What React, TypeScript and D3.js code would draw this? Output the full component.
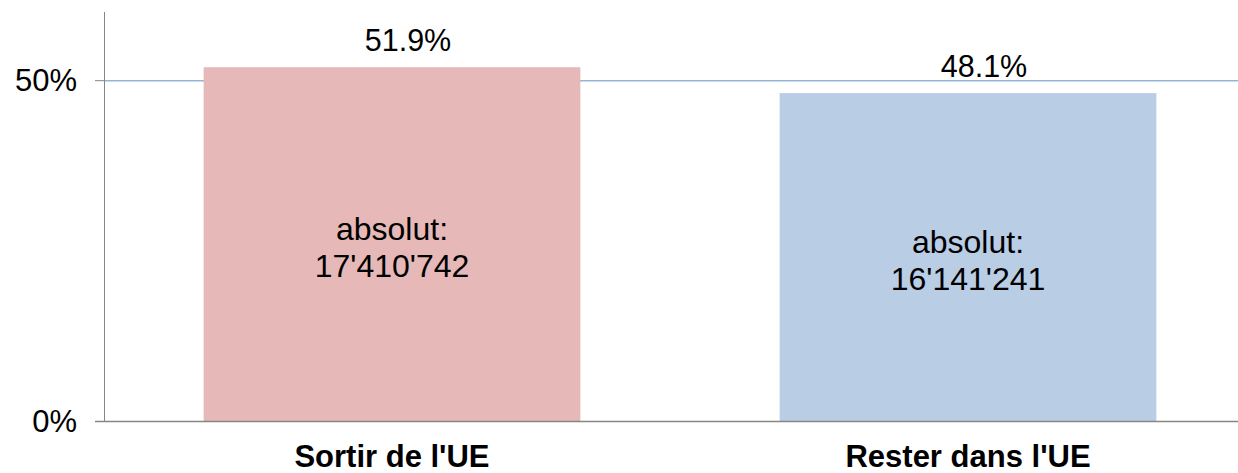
import React, { useEffect, useRef } from 'react';
import * as d3 from 'd3';

const categories = ["Sortir de l'UE", "Rester dans l'UE"];
const shares = [51.9, 48.1];
const absolutes = ["17'410'742", "16'141'241"];
const colors = ['#E6B9B8', '#B9CDE5'];
const yTicks = [0, 50];

const width = 1238;
const height = 473;
const font = '"Liberation Sans", Arial, sans-serif';

export default function App() {
  const ref = useRef<SVGSVGElement>(null);

  useEffect(() => {
    const svg = d3.select(ref.current);
    svg.selectAll('*').remove();

    const x = d3.scaleBand<string>()
      .domain(categories)
      .range([104, 1256])
      .paddingInner(0.346)
      .paddingOuter(0.173);

    const y = d3.scaleLinear().domain([0, 60]).range([421, 12]);

    // gridline at 50%
    svg.append('g')
      .selectAll('line')
      .data(yTicks.filter(t => t > 0))
      .enter()
      .append('line')
      .attr('x1', 104)
      .attr('x2', width)
      .attr('y1', d => y(d) + 0.5)
      .attr('y2', d => y(d) + 0.5)
      .attr('stroke', '#95B3D7')
      .attr('stroke-width', 1.5);

    // bars
    svg.append('g')
      .selectAll('rect')
      .data(categories)
      .enter()
      .append('rect')
      .attr('x', d => x(d)!)
      .attr('width', x.bandwidth())
      .attr('y', (d, i) => y(shares[i]))
      .attr('height', (d, i) => y(0) - y(shares[i]))
      .attr('fill', (d, i) => colors[i]);

    // y axis line and ticks
    svg.append('line')
      .attr('x1', 104.5).attr('x2', 104.5)
      .attr('y1', y(60)).attr('y2', y(0))
      .attr('stroke', '#868686').attr('stroke-width', 1);

    svg.append('line')
      .attr('x1', 95).attr('x2', width)
      .attr('y1', y(0) + 0.5).attr('y2', y(0) + 0.5)
      .attr('stroke', '#868686').attr('stroke-width', 1.5);

    svg.append('g')
      .selectAll('line')
      .data(yTicks)
      .enter()
      .append('line')
      .attr('x1', 95).attr('x2', 104)
      .attr('y1', d => y(d) + 0.5).attr('y2', d => y(d) + 0.5)
      .attr('stroke', '#868686');

    svg.append('g')
      .selectAll('text')
      .data(yTicks)
      .enter()
      .append('text')
      .attr('x', 77)
      .attr('y', d => y(d))
      .attr('dy', '0.36em')
      .attr('text-anchor', 'end')
      .attr('font-family', font)
      .attr('font-size', 31)
      .attr('fill', '#000')
      .text(d => `${d}%`);

    // value labels above bars
    svg.append('g')
      .selectAll('text')
      .data(categories)
      .enter()
      .append('text')
      .attr('x', d => x(d)! + x.bandwidth() / 2 + 16)
      .attr('y', (d, i) => y(shares[i]) - 16)
      .attr('text-anchor', 'middle')
      .attr('font-family', font)
      .attr('font-size', 30.5)
      .attr('fill', '#000')
      .text((d, i) => `${shares[i].toFixed(1)}%`);

    // absolute labels inside bars
    const inner = svg.append('g')
      .selectAll('text')
      .data(categories)
      .enter()
      .append('text')
      .attr('text-anchor', 'middle')
      .attr('font-family', font)
      .attr('font-size', 32)
      .attr('fill', '#000');

    inner.append('tspan')
      .attr('x', d => x(d)! + x.bandwidth() / 2)
      .attr('y', (d, i) => (y(shares[i]) + y(0)) / 2 - 4)
      .text('absolut:');

    inner.append('tspan')
      .attr('x', d => x(d)! + x.bandwidth() / 2)
      .attr('y', (d, i) => (y(shares[i]) + y(0)) / 2 + 33)
      .text((d, i) => absolutes[i]);

    // category labels
    svg.append('g')
      .selectAll('text')
      .data(categories)
      .enter()
      .append('text')
      .attr('x', d => x(d)! + x.bandwidth() / 2)
      .attr('y', 467)
      .attr('text-anchor', 'middle')
      .attr('font-family', font)
      .attr('font-size', 31)
      .attr('font-weight', 'bold')
      .attr('fill', '#000')
      .text(d => d);
  }, []);

  return (
    <svg
      ref={ref}
      width={width}
      height={height}
      style={{ position: 'absolute', left: 0, top: 0, background: '#fff' }}
    />
  );
}
